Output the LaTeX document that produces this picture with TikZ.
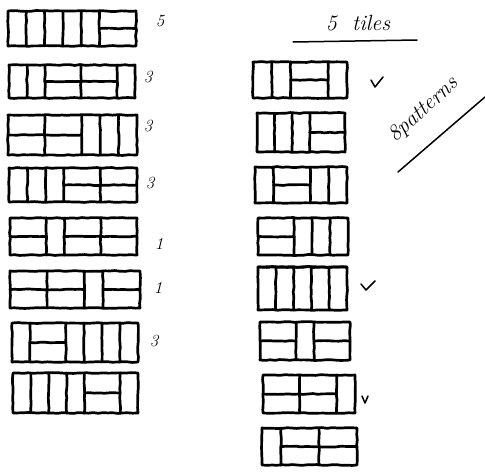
\documentclass[tikz,border=0pt]{standalone}
\usepackage{tikz}
\usetikzlibrary{decorations.pathmorphing}

\tikzset{
  tile/.style={line width=2.7pt, line cap=round, line join=round,
               decorate, decoration={random steps, segment length=5pt, amplitude=0.45pt}},
  scrawl/.style={line width=1.5pt, line cap=round, line join=round},
  tally/.style={font=\fontsize{17}{19}\selectfont\itshape, inner sep=0pt}
}

\begin{document}
\begin{tikzpicture}[x=1pt, y=-1pt]
  \pgfmathsetseed{7}
  \useasboundingbox (0,0) rectangle (485,472);

  % left column: 2x7 boards (left/top/right/bottom/units/cuts/long dominoes)
  \foreach \l/\t/\r/\b/\n/\vs/\hs in {
      8/11/136/46/7/{1,2,3,4,5}/{(5,1)--(7,1)},
      9/65/135/98/7/{1,2,4,6}/{(2,1)--(6,1)},
      8/115/137/155/7/{2,4,5,6}/{(0,1)--(4,1)},
      9/168/137/202/7/{1,2,3,5}/{(3,1)--(7,1)},
      10/218/137/255/7/{2,3,5}/{(0,1)--(2,1) (3,1)--(7,1)},
      10/271/140/308/7/{2,4,5}/{(0,1)--(4,1) (5,1)--(7,1)},
      12/323/138/362/7/{1,3,4,5,6}/{(1,1)--(3,1)},
      13/373/138/413/7/{1,2,3,4,6}/{(4,1)--(6,1)},
  % right column: 2x5 boards
      253/62/347/98/5/{1,2,4}/{(2,1)--(4,1)},
      257/113/345/152/5/{1,2,3}/{(3,1)--(5,1)},
      255/167/347/203/5/{1,3,4}/{(1,1)--(3,1)},
      258/218/348/255/5/{2,3,4}/{(0,1)--(2,1)},
      258/267/347/310/5/{1,2,3,4}/{(0,0)--(5,0)},
      260/322/350/360/5/{2,3}/{(0,1)--(2,1) (3,1)--(5,1)},
      263/375/355/413/5/{2,4}/{(0,1)--(4,1)},
      262/428/357/465/5/{1,3}/{(1,1)--(5,1)}} {
    \begin{scope}[shift={(\l,\t)}, x={({(\r-\l)/\n},0)}, y={(0,{(\b-\t)/2})}]
      \draw[tile] (0,0) rectangle (\n,2);
      \foreach \v in \vs
        \draw[tile] (\v,0) -- (\v,2);
      \draw[tile] \hs;
    \end{scope}
  }

  % counts beside the left boards
  \node[tally] (c1) at (160,21) {5};
  \node[tally] (c2) at (148,77) {3};
  \node[tally] (c3) at (148,126) {3};
  \node[tally] (c4) at (150,183) {3};
  \node[tally] (c5) at (159,244) {1};
  \node[tally] (c6) at (158,288) {1};
  \node[tally] (c7) at (154,341) {3};

  % headings
  \node[font=\fontsize{22}{24}\selectfont\itshape, inner sep=0pt] (title) at (358,23) {5 \ tiles};
  \draw[scrawl] (293,42) -- (417,40);
  \node[font=\fontsize{22}{24}\selectfont\itshape, rotate=42, inner sep=0pt] (patterns) at (424,110) {8patterns};
  \draw[scrawl] (398,172) -- (485,97);

  % ticks
  \draw[scrawl] (371,80) -- (375,87) -- (383,77);
  \draw[scrawl] (361,284) -- (366,290) -- (375,281);
  \draw[scrawl] (362,396) -- (365,403) -- (368,396);
\end{tikzpicture}
\end{document}
